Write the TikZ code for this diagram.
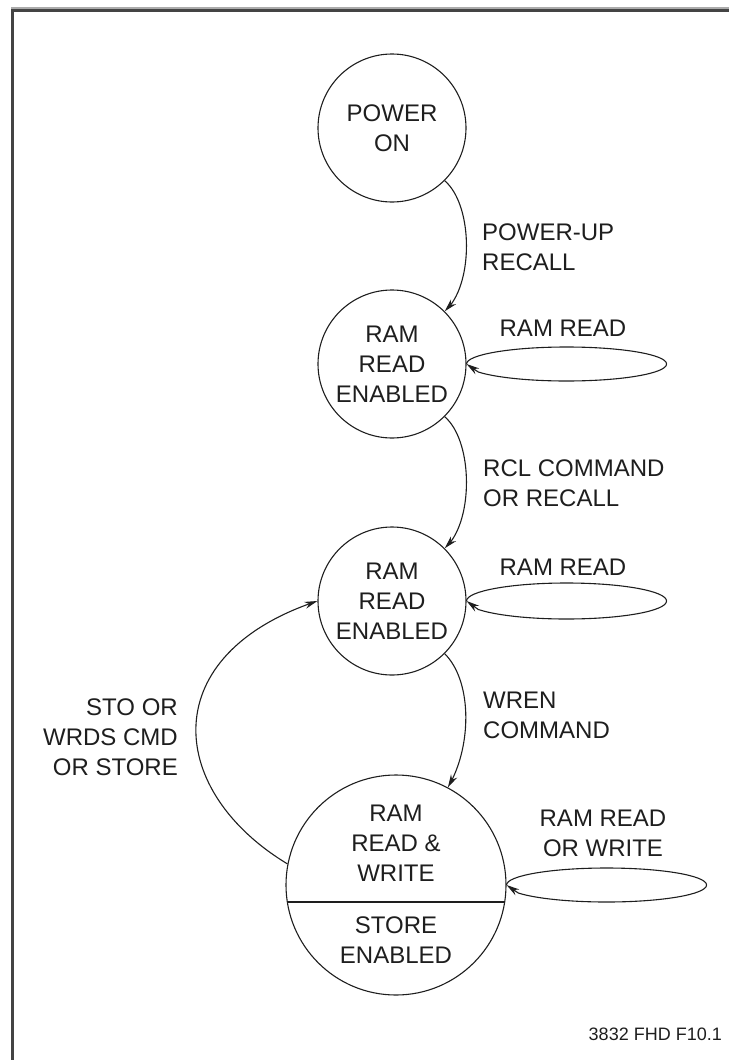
\documentclass[tikz,border=0pt]{standalone}
\usepackage{fontspec}
\setmainfont{Liberation Sans}
\usetikzlibrary{arrows.meta,bending}
\definecolor{ink}{HTML}{1E1E1E}
\definecolor{framecol}{HTML}{444444}
\begin{document}
\begin{tikzpicture}[x=1pt,y=-1pt,
  state/.style={circle,draw=ink,line width=1.1pt,inner sep=0pt,align=center,text=ink,font=\fontsize{24}{30}\selectfont},
  lbl/.style={inner sep=0pt,text=ink,font=\fontsize{24}{30}\selectfont},
  conn/.style={draw=ink,line width=1.1pt,-{Stealth[length=13pt,width=7pt]}},
]
\useasboundingbox (0,0) rectangle (729,1060);
% frame
\draw[framecol!45,line width=1.5pt] (11,7.8) -- (729,7.8);
\draw[framecol,line width=2.6pt] (12.2,1060) -- (12.2,10.3) -- (729,10.3);

% states
\node[state,minimum size=148pt] (c1) at (392,128) {POWER\\ON};
\node[state,minimum size=148pt] (c2) at (392,364) {RAM\\READ\\ENABLED};
\node[state,minimum size=148pt] (c3) at (392,601) {RAM\\READ\\ENABLED};
\node[state,minimum size=220pt] (c4) at (396,885) {};
\draw[ink,line width=1.3pt] ([shift={(-108.7,17)}]c4.center) -- ([shift={(108.7,17)}]c4.center);
\node[lbl,align=center] (c4a) at (396,843) {RAM\\READ \&\\WRITE};
\node[lbl,align=center] (c4b) at (396,940) {STORE\\ENABLED};

% transitions
\draw[conn] (c1.-45) .. controls +(29,25) and +(29,-25) .. (c2.45);
\draw[conn] (c2.-45) .. controls +(29,25) and +(29,-25) .. (c3.45);
\draw[conn] (c3.-45) .. controls +(28,28) and +(24,-40) .. (c4.62);
\draw[conn] (c4.169) .. controls +(-121,-73) and +(-163,54) .. (c3.west);

% self loops
\draw[conn] (c2.east) arc[start angle=180,end angle=512,x radius=100,y radius=17] -- (c2.east);
\draw[conn] (c3.east) arc[start angle=180,end angle=512,x radius=100,y radius=18] -- (c3.east);
\draw[conn] (c4.east) arc[start angle=180,end angle=512,x radius=100,y radius=17] -- (c4.east);

% labels
\node[lbl,anchor=west,align=left] (l1) at (482,247) {POWER-UP\\RECALL};
\node[lbl,anchor=west,align=left] (l2) at (483,483) {RCL COMMAND\\OR RECALL};
\node[lbl,anchor=west,align=left] (l3) at (483,715) {WREN\\COMMAND};
\node[lbl] (l4) at (563,328) {RAM READ};
\node[lbl] (l5) at (563,567) {RAM READ};
\node[lbl,align=center] (l6) at (603,833) {RAM READ\\OR WRITE};
\node[lbl,anchor=east,align=right] (l7) at (178,737) {STO OR\\WRDS CMD\\OR STORE};
\node[inner sep=0pt,text=ink,anchor=east,font=\fontsize{18}{22}\selectfont] (fig) at (722,1034) {3832 FHD F10.1};
\end{tikzpicture}
\end{document}
